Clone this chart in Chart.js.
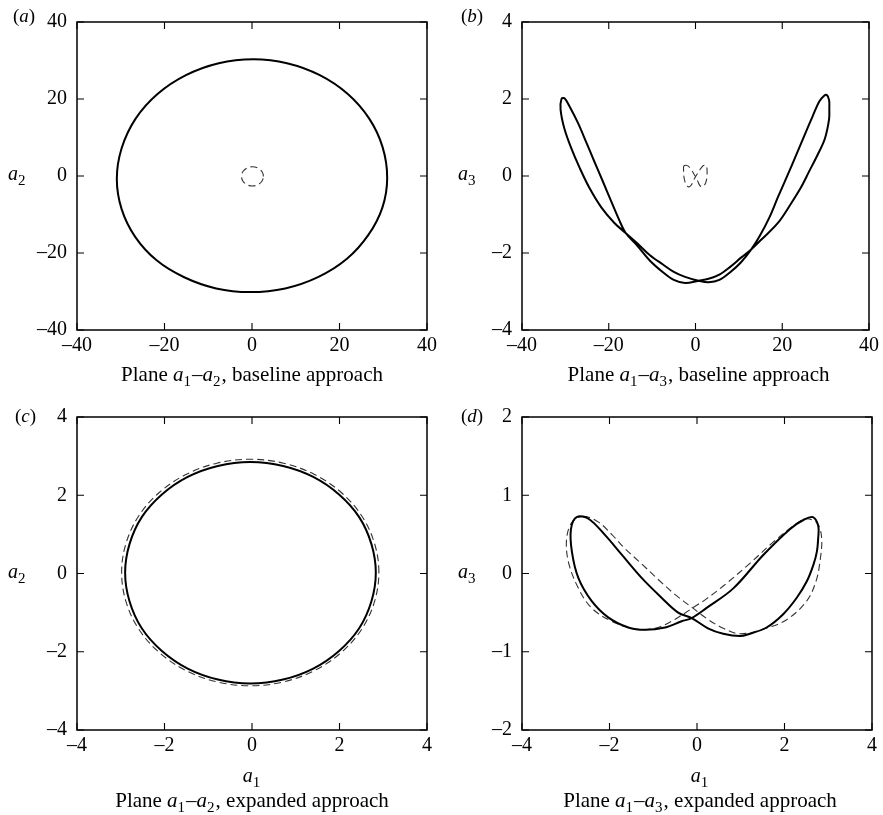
<!DOCTYPE html>
<html>
<head>
<meta charset="utf-8">
<script src="https://cdn.jsdelivr.net/npm/chart.js@4.4.1/dist/chart.umd.min.js"></script>
<style>
  html, body { margin: 0; padding: 0; background: #fff; }
  #wrap { position: relative; width: 883px; height: 815px; overflow: hidden; }
  #wrap canvas { position: absolute; }
</style>
</head>
<body>
<div id="wrap">
  <canvas id="pa" width="441" height="407" style="left:0;top:0"></canvas>
  <canvas id="pb" width="442" height="407" style="left:441px;top:0"></canvas>
  <canvas id="pc" width="441" height="420" style="left:0;top:395px"></canvas>
  <canvas id="pd" width="442" height="420" style="left:441px;top:395px"></canvas>
</div>
<script>
// tick values per panel
const ticksBig = [-40, -20, 0, 20, 40];
const ticksFour = [-4, -2, 0, 2, 4];
const ticksTwo = [-2, -1, 0, 1, 2];

// (a) plane a1-a2, baseline: solid orbit and small dashed one (closed loops)
const a12Solid = [[30.9,-0.5],[29.85,7.5],[26.8,14.9],[21.9,21.3],[15.5,26.2],[8.0,29.3],[0.3,30.3],[-7.6,29.3],[-15.1,26.2],[-21.6,21.3],[-26.6,14.9],[-29.8,7.2],[-30.9,-0.8],[-29.8,-8.6],[-26.7,-15.8],[-21.8,-21.9],[-15.5,-26.3],[-8.2,-29.2],[-0.5,-30.15],[7.6,-29.2],[15.2,-26.2],[21.7,-21.5],[26.6,-15.3],[29.8,-8.2],[30.9,-0.5]];
const a12Dash = [[2.6,-0.1],[2.27,1.15],[1.35,2.07],[0.1,2.4],[-1.15,2.07],[-2.07,1.15],[-2.4,-0.1],[-2.07,-1.35],[-1.15,-2.27],[0.1,-2.6],[1.35,-2.27],[2.27,-1.35],[2.6,-0.1]];

// (b) plane a1-a3, baseline
const b13Solid = [[-30.9,2.0],[-31.1,1.72],[-30.2,1.22],[-28.6,0.71],[-26.7,0.21],[-24.5,-0.30],[-21.8,-0.80],[-18.7,-1.22],[-16.1,-1.48],
  [-13.5,-1.74],[-10.5,-2.06],[-7.5,-2.3],[-5.0,-2.49],[-2.4,-2.62],[0.7,-2.72],
  [3.0,-2.76],[5.5,-2.7],[8.0,-2.5],[10.5,-2.24],[12.9,-1.9],
  [14.8,-1.56],[17.1,-1.06],[19.0,-0.55],[21.3,0.04],[23.2,0.54],[25.1,1.05],[27.0,1.55],[28.5,1.93],[29.6,2.08],[30.3,2.1],[30.8,1.97],
  [30.85,1.75],[30.79,1.47],[29.8,0.96],[28.1,0.54],[26.2,0.12],[24.3,-0.30],[22.0,-0.72],[19.0,-1.22],[15.2,-1.65],[12.9,-1.9],
  [10.5,-2.12],[8.0,-2.36],[5.5,-2.56],[3.0,-2.67],[0.7,-2.72],
  [-2.4,-2.78],[-5.0,-2.7],[-7.5,-2.5],[-10.5,-2.2],[-13.5,-1.8],[-16.1,-1.48],
  [-17.6,-1.14],[-19.5,-0.64],[-21.4,-0.13],[-23.3,0.37],[-25.2,0.88],[-27.1,1.38],[-29.0,1.80],[-30.2,2.02],[-30.9,2.0]];
const b13Dash = [[-2.7,0.26],[-2.2,0.28],[-1.6,0.25],[-1.0,0.17],[-0.5,0.08],[0,-0.02],[0.5,-0.13],[0.9,-0.23],[1.4,-0.28],[1.9,-0.26],[2.4,-0.16],[2.65,0.0],[2.65,0.18],[2.5,0.27],[2.0,0.28],[1.5,0.24],[1.0,0.16],[0.5,0.07],[0,-0.02],[-0.5,-0.12],[-0.9,-0.22],[-1.4,-0.28],[-1.9,-0.26],[-2.4,-0.16],[-2.7,0.0],[-2.75,0.16],[-2.7,0.26]];

// (c) plane a1-a2, expanded
const c12Solid = [[2.83,0.02],[2.73,0.75],[2.45,1.44],[1.99,2.02],[1.40,2.47],[0.71,2.75],[-0.04,2.85],[-0.78,2.75],[-1.47,2.47],[-2.06,2.02],[-2.52,1.44],[-2.80,0.75],[-2.90,0.02],[-2.80,-0.71],[-2.52,-1.40],[-2.06,-1.98],[-1.47,-2.43],[-0.78,-2.71],[-0.04,-2.81],[0.71,-2.71],[1.40,-2.43],[1.99,-1.98],[2.45,-1.40],[2.73,-0.71],[2.83,0.02]];
const c12Dash = [[2.90,0.03],[2.80,0.77],[2.51,1.47],[2.04,2.07],[1.43,2.53],[0.72,2.82],[-0.04,2.92],[-0.80,2.82],[-1.51,2.53],[-2.12,2.07],[-2.59,1.47],[-2.88,0.77],[-2.98,0.03],[-2.88,-0.72],[-2.59,-1.42],[-2.12,-2.02],[-1.51,-2.48],[-0.80,-2.77],[-0.04,-2.87],[0.72,-2.77],[1.43,-2.48],[2.04,-2.02],[2.51,-1.42],[2.80,-0.72],[2.90,0.03]];

// (d) plane a1-a3, expanded
const d13Solid = [[-0.12,-0.57],[0.22,-0.44],[0.83,-0.19],[1.52,0.24],[2.13,0.57],[2.45,0.69],[2.65,0.72],[2.77,0.61],[2.77,0.45],[2.74,0.28],[2.66,0.11],[2.51,-0.10],[2.28,-0.31],[1.97,-0.52],[1.59,-0.69],[1.21,-0.77],[0.98,-0.80],[0.6,-0.77],[0.25,-0.70],[-0.12,-0.57],
  [-0.43,-0.50],[-0.81,-0.31],[-1.26,-0.06],[-1.72,0.24],[-2.10,0.49],[-2.48,0.70],[-2.75,0.72],[-2.88,0.57],[-2.86,0.28],[-2.71,-0.06],[-2.41,-0.35],[-2.03,-0.56],[-1.57,-0.69],[-1.19,-0.72],[-0.73,-0.69],[-0.35,-0.61],[-0.12,-0.57]];
const d13Dash = [[-2.6,0.73],[-2.26,0.66],[-1.95,0.5],[-1.65,0.32],[-1.26,0.12],[-0.88,-0.08],[-0.5,-0.27],[-0.1,-0.44],[0.26,-0.59],[0.6,-0.7],[0.98,-0.77],[1.52,-0.71],[2.05,-0.59],[2.51,-0.35],[2.72,-0.1],[2.81,0.15],[2.85,0.45],[2.75,0.64],[2.51,0.70],[2.28,0.64],[1.74,0.40],[1.21,0.13],[0.60,-0.16],[0.2,-0.33],[-0.1,-0.44],[-0.55,-0.6],[-0.96,-0.70],[-1.42,-0.71],[-1.95,-0.61],[-2.41,-0.44],[-2.71,-0.19],[-2.94,0.15],[-2.98,0.45],[-2.85,0.66],[-2.6,0.73]];

const FAM = "'Liberation Serif', 'Times New Roman', serif";

function seg(t, it, sub) { return { t: t, it: !!it, sub: !!sub }; }

function drawRich(ctx, segs, x, base, align, size) {
    const big = size || 20;
    const fontOf = s => (s.it ? 'italic ' : '') + (s.sub ? 15 : big) + 'px ' + FAM;
    let total = 0;
    segs.forEach(s => { ctx.font = fontOf(s); s.w = ctx.measureText(s.t).width + (s.sub ? 1 : 0); total += s.w; });
    let cx = align === 'center' ? x - total / 2 : x;
    ctx.textAlign = 'left';
    ctx.textBaseline = 'alphabetic';
    segs.forEach(s => {
        ctx.font = fontOf(s);
        ctx.fillText(s.t, cx, base + (s.sub ? 5 : 0));
        cx += s.w;
    });
}

const framePlugin = {
    id: 'frame',
    afterDraw(chart, args, o) {
        const { ctx, chartArea: ca } = chart;
        const xs = chart.scales.x, ys = chart.scales.y;
        ctx.save();
        ctx.strokeStyle = '#000';
        ctx.lineWidth = 1.5;
        ctx.strokeRect(ca.left, ca.top, ca.right - ca.left, ca.bottom - ca.top);
        ctx.lineWidth = 1.1;
        ctx.beginPath();
        xs.ticks.forEach(t => {
            const p = xs.getPixelForValue(t.value);
            ctx.moveTo(p, ca.bottom); ctx.lineTo(p, ca.bottom - 7);
            ctx.moveTo(p, ca.top); ctx.lineTo(p, ca.top + 7);
        });
        ys.ticks.forEach(t => {
            const p = ys.getPixelForValue(t.value);
            ctx.moveTo(ca.left, p); ctx.lineTo(ca.left + 7, p);
            ctx.moveTo(ca.right, p); ctx.lineTo(ca.right - 7, p);
        });
        ctx.stroke();

        ctx.fillStyle = '#000';
        drawRich(ctx, [seg('('), seg(o.tag, true), seg(')')], o.tagX, o.tagY, 'left', 19);
        const y0 = ys.getPixelForValue(0);
        drawRich(ctx, [seg('a', true), seg(o.ySub, false, true)], o.yTitleX, y0 + 4, 'left', 20);
        const cx = (ca.left + ca.right) / 2 + (o.dx || 0);
        if (o.xTitleY) drawRich(ctx, [seg('a', true), seg('1', false, true)], cx, o.xTitleY, 'center', 20);
        drawRich(ctx, o.caption, cx, o.captionY, 'center', 21);
        ctx.restore();
    }
};

const tickLabel = v => (v < 0 ? '\u2013' + Math.abs(v) : String(v));

// closed orbit: pad with wrap-around neighbours so the curve joins smoothly,
// and hide the two padding segments
function loopSet(arr, style) {
    const n = arr.length;
    const pts = [arr[n - 2]].concat(arr, [arr[1]]).map(p => ({ x: p[0], y: p[1] }));
    const last = pts.length - 1;
    return Object.assign({
        data: pts,
        showLine: true,
        pointRadius: 0,
        tension: 0.35,
        fill: false,
        segment: {
            borderColor: c => (c.p0DataIndex === 0 || c.p1DataIndex === last) ? 'rgba(0,0,0,0)' : undefined
        }
    }, style);
}

function makePanel(id, p) {
    new Chart(document.getElementById(id), {
        type: 'scatter',
        data: {
            datasets: [
                loopSet(p.solid, { borderColor: '#000', borderWidth: 2 }),
                loopSet(p.dash, { borderColor: '#333', borderWidth: 1.1, borderDash: [7, 4] })
            ]
        },
        options: {
            responsive: false,
            animation: false,
            events: [],
            layout: { padding: { top: p.padTop, right: p.padRight, left: 0, bottom: 0 } },
            plugins: {
                legend: { display: false },
                tooltip: { enabled: false },
                frame: p.deco
            },
            scales: {
                x: {
                    type: 'linear',
                    min: p.xTicks[0], max: p.xTicks[p.xTicks.length - 1],
                    afterBuildTicks: s => { s.ticks = p.xTicks.map(v => ({ value: v })); },
                    afterFit: s => { s.height = p.xHeight; },
                    grid: { display: false, drawTicks: false },
                    border: { display: false },
                    ticks: { callback: tickLabel, padding: 4, color: '#000', maxRotation: 0, font: { family: FAM, size: 20 } }
                },
                y: {
                    type: 'linear',
                    min: p.yTicks[0], max: p.yTicks[p.yTicks.length - 1],
                    afterBuildTicks: s => { s.ticks = p.yTicks.map(v => ({ value: v })); },
                    afterFit: s => { s.width = p.yWidth; },
                    grid: { display: false, drawTicks: false },
                    border: { display: false },
                    ticks: { callback: tickLabel, padding: 10, color: '#000', font: { family: FAM, size: 20 } }
                }
            }
        },
        plugins: [framePlugin]
    });
}

makePanel('pa', {
    solid: a12Solid, dash: a12Dash, xTicks: ticksBig, yTicks: ticksBig,
    padTop: 13, padRight: 14, yWidth: 77, xHeight: 77,
    deco: { tag: 'a', tagX: 13, tagY: 22, ySub: '2', yTitleX: 8, captionY: 381,
        caption: [seg('Plane '), seg('a', true), seg('1', false, true), seg('\u2013'), seg('a', true), seg('2', false, true), seg(', baseline approach')] }
});
makePanel('pb', {
    solid: b13Solid, dash: b13Dash, xTicks: ticksBig, yTicks: ticksFour,
    padTop: 13, padRight: 11, yWidth: 81, xHeight: 77,
    deco: { tag: 'b', tagX: 20, tagY: 22, ySub: '3', yTitleX: 17, captionY: 381, dx: 3,
        caption: [seg('Plane '), seg('a', true), seg('1', false, true), seg('\u2013'), seg('a', true), seg('3', false, true), seg(', baseline approach')] }
});
makePanel('pc', {
    solid: c12Solid, dash: c12Dash, xTicks: ticksFour, yTicks: ticksFour,
    padTop: 18, padRight: 14, yWidth: 77, xHeight: 85,
    deco: { tag: 'c', tagX: 15, tagY: 27, ySub: '2', yTitleX: 8, xTitleY: 387, captionY: 412,
        caption: [seg('Plane '), seg('a', true), seg('1', false, true), seg('\u2013'), seg('a', true), seg('2', false, true), seg(', expanded approach')] }
});
makePanel('pd', {
    solid: d13Solid, dash: d13Dash, xTicks: ticksFour, yTicks: ticksTwo,
    padTop: 18, padRight: 11, yWidth: 81, xHeight: 85,
    deco: { tag: 'd', tagX: 20, tagY: 27, ySub: '3', yTitleX: 17, xTitleY: 387, captionY: 412, dx: 3,
        caption: [seg('Plane '), seg('a', true), seg('1', false, true), seg('\u2013'), seg('a', true), seg('3', false, true), seg(', expanded approach')] }
});
</script>
</body>
</html>
